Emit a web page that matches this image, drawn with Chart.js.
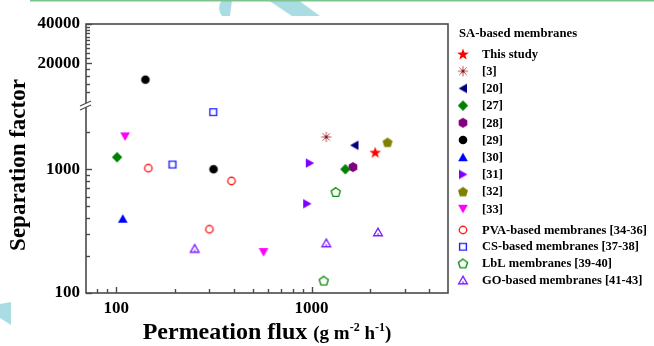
<!DOCTYPE html>
<html>
<head>
<meta charset="utf-8">
<script src="https://cdn.jsdelivr.net/npm/chart.js@4.4.1/dist/chart.umd.min.js"></script>
<style>
html, body { margin: 0; padding: 0; background: #fff; }
</style>
</head>
<body>
<canvas id="chart" width="654" height="346"></canvas>
<script>
// values: permeation flux (g m-2 h-1) and separation factor
const studyFlux = [2120];         const studySep = [1370];
const ref3Flux = [1190];          const ref3Sep = [1820];
const ref20Flux = [1660];         const ref20Sep = [1560];
const ref27Flux = [101, 1490];    const ref27Sep = [1250, 1000];
const ref28Flux = [1630];         const ref28Sep = [1040];
const ref29Flux = [141, 315];     const ref29Sep = [15000, 1000];
const ref30Flux = [108];          const ref30Sep = [398];
const ref31Flux = [980, 950];     const ref31Sep = [1120, 526];
const ref32Flux = [2450];         const ref32Sep = [1650];
const ref33Flux = [111, 568];     const ref33Sep = [1840, 214];
const pvaFlux = [146, 300, 389];  const pvaSep = [1020, 327, 803];
const csFlux = [194, 314];        const csSep = [1090, 2890];
const lblFlux = [1330, 1155];     const lblSep = [655, 126];
const goFlux = [252, 1190, 2190]; const goSep = [229, 254, 311];

// axis ticks
const fluxTicks = [80, 90, 100, 200, 300, 400, 500, 600, 700, 800, 900, 1000, 2000, 3000, 4000];
const fluxLabels = [100, 1000];
const sepLowTicks = [100, 200, 300, 400, 500, 600, 700, 800, 900, 1000, 2000];
const sepLowLabels = [100, 1000];
const sepHighTicks = [12000, 14000, 16000, 18000, 20000, 22000, 24000, 26000, 28000, 30000, 32000, 34000, 36000, 38000, 40000];
const sepHighLabels = [20000, 40000];

const LOWER_MAX = 3300;
const UPPER_MIN = 9600;

const SERIF = '"Liberation Serif", "Times New Roman", serif';
const AXIS = '#4a4a4a';

function marker(shape, color, filled) {
	const c = document.createElement('canvas');
	c.width = c.height = 14;
	const g = c.getContext('2d');
	let m = 7, my = 7;
	g.fillStyle = color;
	g.strokeStyle = color;
	g.lineWidth = 1.4;
	const poly = (n, r, rot, cy = my) => {
		g.beginPath();
		for (let k = 0; k < n; k++) {
			const a = rot + k * 2 * Math.PI / n;
			const px = m + r * Math.cos(a), py = cy + r * Math.sin(a);
			k ? g.lineTo(px, py) : g.moveTo(px, py);
		}
		g.closePath();
	};
	switch (shape) {
		case 'circle':
			g.beginPath();
			g.arc(m, my, filled ? 4.3 : 3.7, 0, 2 * Math.PI);
			break;
		case 'square':
			g.beginPath();
			g.rect(m - 3.4, my - 3.4, 6.8, 6.8);
			break;
		case 'diamond': poly(4, 5.2, -Math.PI / 2); break;
		case 'triUp': poly(3, filled ? 5.6 : 5.0, -Math.PI / 2, my + 1.2); break;
		case 'triDown': poly(3, 5.6, Math.PI / 2, my - 1.2); break;
		case 'triLeft': m = 8.2; poly(3, 5.6, Math.PI); break;
		case 'triRight': m = 5.8; poly(3, 5.6, 0); break;
		case 'pentagon': poly(5, filled ? 5.3 : 4.8, -Math.PI / 2, my + 0.5); break;
		case 'hexagon': poly(6, 5.0, -Math.PI / 2); break;
		case 'star':
			g.beginPath();
			for (let k = 0; k < 10; k++) {
				const r = k % 2 ? 2.5 : 6.2;
				const a = -Math.PI / 2 + k * Math.PI / 5;
				const px = m + r * Math.cos(a), py = my + 0.6 + r * Math.sin(a);
				k ? g.lineTo(px, py) : g.moveTo(px, py);
			}
			g.closePath();
			break;
		case 'asterisk':
			g.lineWidth = 1;
			g.beginPath();
			for (let k = 0; k < 8; k++) {
				const a = k * Math.PI / 4;
				g.moveTo(m, my);
				g.lineTo(m + 5.2 * Math.cos(a), my + 5.2 * Math.sin(a));
			}
			g.stroke();
			g.fillStyle = '#7a1010';
			g.fillRect(m - 1.3, my - 1.3, 2.6, 2.6);
			return c;
	}
	if (filled) g.fill(); else g.stroke();
	if (shape === 'triUp' && !filled) g.fillRect(m - 1, my + 1.6, 2, 1);
	return c;
}

// legend order, marker and group (0 = SA-based, 1 = others)
const seriesList = [
	{ label: 'This study', flux: studyFlux, sep: studySep, style: marker('star', '#ff0000', true), group: 0 },
	{ label: '[3]', flux: ref3Flux, sep: ref3Sep, style: marker('asterisk', '#b85555', true), group: 0 },
	{ label: '[20]', flux: ref20Flux, sep: ref20Sep, style: marker('triLeft', '#000080', true), group: 0 },
	{ label: '[27]', flux: ref27Flux, sep: ref27Sep, style: marker('diamond', '#008000', true), group: 0 },
	{ label: '[28]', flux: ref28Flux, sep: ref28Sep, style: marker('hexagon', '#800080', true), group: 0 },
	{ label: '[29]', flux: ref29Flux, sep: ref29Sep, style: marker('circle', '#000000', true), group: 0 },
	{ label: '[30]', flux: ref30Flux, sep: ref30Sep, style: marker('triUp', '#0000ff', true), group: 0 },
	{ label: '[31]', flux: ref31Flux, sep: ref31Sep, style: marker('triRight', '#8000ff', true), group: 0 },
	{ label: '[32]', flux: ref32Flux, sep: ref32Sep, style: marker('pentagon', '#808000', true), group: 0 },
	{ label: '[33]', flux: ref33Flux, sep: ref33Sep, style: marker('triDown', '#ff00ff', true), group: 0 },
	{ label: 'PVA-based membranes [34-36]', flux: pvaFlux, sep: pvaSep, style: marker('circle', '#ff2020', false), group: 1 },
	{ label: 'CS-based membranes [37-38]', flux: csFlux, sep: csSep, style: marker('square', '#2020ff', false), group: 1 },
	{ label: 'LbL membranes [39-40]', flux: lblFlux, sep: lblSep, style: marker('pentagon', '#109010', false), group: 1 },
	{ label: 'GO-based membranes [41-43]', flux: goFlux, sep: goSep, style: marker('triUp', '#8020ff', false), group: 1 },
];

let datasets = [];
for (const s of seriesList) {
	let lower = [], upper = [];
	s.flux.forEach((f, i) => (s.sep[i] > LOWER_MAX ? upper : lower).push({ x: f, y: s.sep[i] }));
	datasets.push({ label: s.label, data: lower, yAxisID: 'y', pointStyle: s.style });
	if (upper.length) datasets.push({ label: s.label, data: upper, yAxisID: 'y2', pointStyle: s.style });
}

const tickFont = { family: SERIF, size: 17, weight: 'bold' };
const onlyLabels = (list) => (v) => list.includes(v) ? String(v) : '';

let chartOptions = {
	responsive: false,
	animation: false,
	events: [],
	layout: { padding: { left: 0, top: 24, right: 206, bottom: 0 } },
	scales: {
		x: {
			type: 'logarithmic',
			min: 70,
			max: 5000,
			grid: { display: false, drawTicks: false },
			border: { display: false },
			afterBuildTicks: (s) => { s.ticks = fluxTicks.map(v => ({ value: v })); },
			afterFit: (s) => { s.height = 53; },
			ticks: { autoSkip: false, maxRotation: 0, padding: 5, color: '#000', font: tickFont, callback: onlyLabels(fluxLabels) },
		},
		y: {
			type: 'logarithmic',
			position: 'left',
			stack: 'sep',
			stackWeight: 188,
			min: 100,
			max: LOWER_MAX,
			grid: { display: false, drawTicks: false },
			border: { display: false },
			afterBuildTicks: (s) => { s.ticks = sepLowTicks.map(v => ({ value: v })); },
			afterFit: (s) => { s.width = 86; },
			ticks: { autoSkip: false, padding: 6, color: '#000', font: tickFont, callback: onlyLabels(sepLowLabels) },
		},
		y2: {
			type: 'logarithmic',
			position: 'left',
			stack: 'sep',
			stackWeight: 81,
			min: UPPER_MIN,
			max: 40000,
			grid: { display: false, drawTicks: false },
			border: { display: false },
			afterBuildTicks: (s) => { s.ticks = sepHighTicks.map(v => ({ value: v })); },
			afterFit: (s) => { s.width = 86; },
			ticks: { autoSkip: false, padding: 6, color: '#000', font: tickFont, callback: onlyLabels(sepHighLabels) },
		},
	},
	plugins: {
		legend: { display: false },
		tooltip: { enabled: false },
	},
};

function tickLine(ctx, x1, y1, x2, y2) {
	ctx.beginPath();
	ctx.moveTo(x1, y1);
	ctx.lineTo(x2, y2);
	ctx.stroke();
}

let plugins = [
	{
		id: 'background',
		beforeDraw: (chart) => {
			const { ctx } = chart;
			ctx.save();
			ctx.fillStyle = '#ffffff';
			ctx.fillRect(0, 0, chart.width, chart.height);
			// slide decoration
			ctx.fillStyle = '#a9dde3';
			ctx.beginPath();
			ctx.moveTo(222, 0); ctx.lineTo(232, 0); ctx.lineTo(230, 16); ctx.lineTo(222, 16);
			ctx.quadraticCurveTo(216, 8, 222, 0);
			ctx.fill();
			ctx.beginPath();
			ctx.moveTo(268, 0); ctx.lineTo(298, 0); ctx.lineTo(320, 16); ctx.lineTo(292, 16);
			ctx.fill();
			ctx.beginPath();
			ctx.moveTo(0, 304); ctx.lineTo(11, 302); ctx.lineTo(11, 325); ctx.lineTo(0, 318);
			ctx.fill();
			ctx.fillStyle = '#7fc48e';
			ctx.fillRect(30, 0, 624, 1.5);
			ctx.restore();
		},
	},
	{
		id: 'frameTicksLegend',
		afterDraw: (chart) => {
			const { ctx, chartArea: { left, right, top, bottom }, scales: { x, y, y2 } } = chart;
			ctx.save();
			ctx.strokeStyle = AXIS;
			ctx.lineWidth = 1.6;
			ctx.strokeRect(left, top, right - left, bottom - top);

			// inward ticks
			ctx.lineWidth = 1.4;
			fluxTicks.forEach(v => {
				const px = Math.round(x.getPixelForValue(v)) + 0.5;
				tickLine(ctx, px, bottom, px, bottom - (fluxLabels.includes(v) ? 6 : 4));
			});
			sepLowTicks.forEach(v => {
				const py = Math.round(y.getPixelForValue(v)) + 0.5;
				tickLine(ctx, left, py, left + (sepLowLabels.includes(v) ? 6 : 4), py);
			});
			sepHighTicks.forEach(v => {
				const py = Math.round(y2.getPixelForValue(v)) + 0.5;
				tickLine(ctx, left, py, left + (sepHighLabels.includes(v) ? 6 : 4), py);
			});

			// axis break
			const yb = y.top;
			ctx.fillStyle = '#ffffff';
			ctx.beginPath();
			ctx.moveTo(left - 6, yb + 1); ctx.lineTo(left + 5, yb - 4);
			ctx.lineTo(left + 5, yb); ctx.lineTo(left - 6, yb + 5);
			ctx.fill();
			ctx.lineWidth = 1.2;
			tickLine(ctx, left - 6, yb + 1, left + 5, yb - 4);
			tickLine(ctx, left - 6, yb + 5, left + 5, yb);

			// axis titles
			ctx.fillStyle = '#000';
			ctx.save();
			ctx.translate(25, 165);
			ctx.rotate(-Math.PI / 2);
			ctx.font = 'bold 23px ' + SERIF;
			ctx.textAlign = 'center';
			ctx.textBaseline = 'alphabetic';
			ctx.fillText('Separation factor', 0, 0);
			ctx.restore();

			const parts = [
				['Permeation flux ', 24, 0],
				['(g m', 19, 0],
				['-2', 12, -8],
				[' h', 19, 0],
				['-1', 12, -8],
				[')', 19, 0],
			];
			let total = 0;
			for (const p of parts) { ctx.font = 'bold ' + p[1] + 'px ' + SERIF; p.push(ctx.measureText(p[0]).width); total += p[3]; }
			let tx = (left + right) / 2 - total / 2;
			ctx.textAlign = 'left';
			for (const p of parts) {
				ctx.font = 'bold ' + p[1] + 'px ' + SERIF;
				ctx.fillText(p[0], tx, 339 + p[2]);
				tx += p[3];
			}

			// legend
			ctx.font = 'bold 12.7px ' + SERIF;
			ctx.textBaseline = 'middle';
			ctx.fillText('SA-based membranes', 459, 34);
			let i0 = 0, i1 = 0;
			for (const s of seriesList) {
				const ry = s.group === 0 ? 54 + 17.2 * i0++ : 230 + 16.7 * i1++;
				ctx.drawImage(s.style, 463 - s.style.width / 2, ry - s.style.height / 2);
				ctx.font = 'bold 12.5px ' + SERIF;
				ctx.fillText(s.label, 482, ry + 0.5);
			}
			ctx.restore();
		},
	},
];

new Chart(document.getElementById('chart'), {
	type: 'scatter',
	data: { datasets: datasets },
	options: chartOptions,
	plugins: plugins,
});
</script>
</body>
</html>
